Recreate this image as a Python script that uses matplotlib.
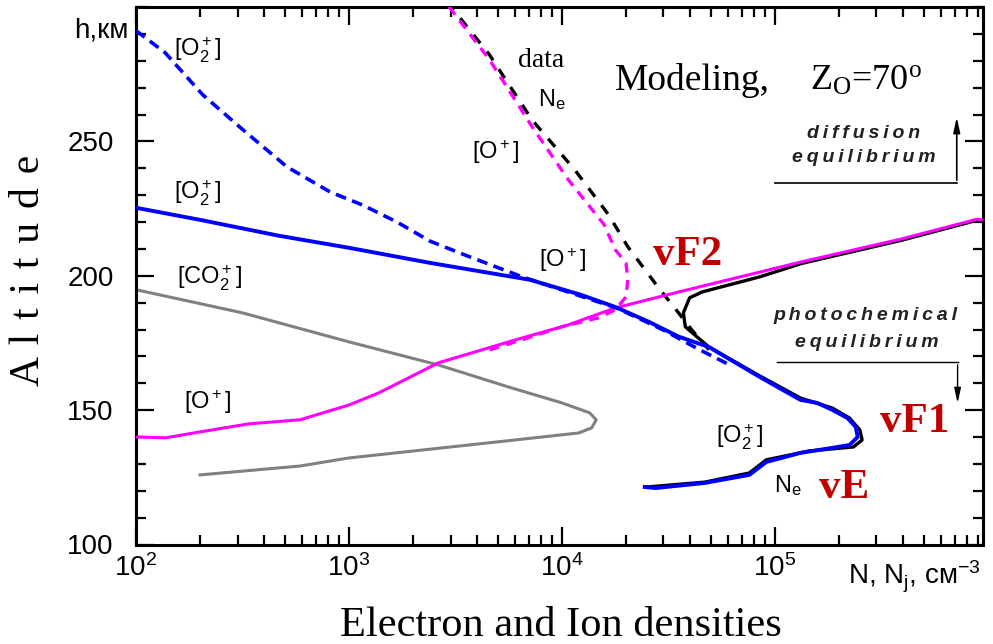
import matplotlib
matplotlib.use("Agg")
import matplotlib.pyplot as plt
from matplotlib.ticker import LogLocator, MultipleLocator, NullFormatter
import numpy as np

plt.rcParams['font.family'] = ['Liberation Sans', 'DejaVu Sans']
plt.rcParams['mathtext.fontset'] = 'custom'
plt.rcParams['mathtext.rm'] = 'Liberation Sans'
plt.rcParams['mathtext.it'] = 'Liberation Sans'
plt.rcParams['mathtext.bf'] = 'Liberation Sans:bold'
plt.rcParams['mathtext.default'] = 'regular'

# densities in cm^-3, altitudes in km
# [O2+] diffusive model (dashed blue)
o2_diff_n = [100, 137, 206, 318, 512, 815, 1160, 1680, 2400, 3510, 6560, 12600, 18100, 29800, 44500, 61500]
o2_diff_h = [291.2, 283.0, 267.3, 254.3, 240.5, 231.2, 226.3, 220.0, 212.9, 207.7, 199.5, 192.1, 188.0, 179.9, 172.4, 166.8]

# [O2+] photochemical model (solid blue)
o2_n = [100, 200, 468, 1000, 2400, 7080, 12300, 17800, 25700, 35500, 49000, 85100,
        132000, 158000, 186000, 219000, 240000, 245000, 224000, 162000, 132000, 91200,
        75900, 46800, 27500, 24500]
o2_h = [225.3, 220.8, 214.9, 210.4, 204.8, 198.5, 192.9, 188.4, 182.8, 177.3, 173.5, 162.3,
        153.8, 152.7, 150.1, 147.1, 143.7, 140.0, 137.0, 135.2, 134.1, 130.7,
        125.9, 122.9, 121.0, 121.4]

# [O+] model (solid magenta)
op_n = [100, 138, 200, 339, 589, 1000, 1380, 2630, 6030, 10700, 17800, 35500, 55000,
        134000, 394000, 887000, 948000]
op_h = [140.0, 139.7, 141.9, 144.9, 146.4, 151.9, 156.4, 167.6, 176.1, 181.7, 188.0, 194.0, 197.7,
        205.2, 213.7, 221.0, 220.8]

# [O+] diffusive model (dashed magenta)
op_diff_n = [2950, 4570, 7240, 10700, 15800, 17800, 20000, 20400, 20000, 17800, 14800,
             10000, 6460, 4400]
op_diff_h = [300.1, 280.4, 255.5, 235.8, 219.0, 209.7, 204.8, 198.5, 192.1, 187.3, 184.3,
             181.0, 176.1, 172.0]

# [CO2+] (grey)
co2_n = [100, 316, 1000, 2630, 5620, 10000, 13500, 14500, 13800, 12000, 5010, 1000, 589, 200]
co2_h = [194.8, 186.2, 175.4, 166.8, 158.6, 152.7, 149.0, 146.4, 143.4, 141.5, 138.2, 132.2, 129.2, 125.9]

# electron density, model (solid black)
ne_n = [25100, 46800, 75900, 91200, 145000, 234000, 257000, 251000, 224000, 186000,
        132000, 85100, 49000, 38000, 37200, 39800, 45700, 85100, 134000, 394000, 887000, 948000]
ne_h = [121.4, 123.2, 126.6, 131.5, 134.8, 136.3, 138.9, 142.6, 147.1, 150.8,
        154.5, 162.7, 173.5, 181.0, 186.2, 191.8, 194.0, 199.6, 204.6, 213.2, 220.6, 220.4]

# electron density, data (dashed black)
ne_data_n = [3020, 4570, 7240, 11500, 16600, 20400, 28200, 33900, 40700, 49000]
ne_data_h = [300.1, 282.2, 258.0, 239.4, 222.6, 210.8, 195.9, 188.0, 179.9, 172.5]

x_ticks = [1e2, 1e3, 1e4, 1e5]
x_tick_labels = [r'$10^2$', r'$10^3$', r'$10^4$', r'$10^5$']
y_ticks = [100, 150, 200, 250]
y_tick_labels = ['100', '150', '200', '250']

fig = plt.figure(figsize=(9.93, 6.44), dpi=100)
ax = fig.add_axes([136 / 993, 1 - 544.5 / 644, 847 / 993, 537.5 / 644])

ax.plot(co2_n, co2_h, color='#808080', lw=2.2, zorder=2)
ax.plot(ne_data_n, ne_data_h, color='black', lw=2.4, linestyle=(2, (3.2, 3.2)), zorder=3)
ax.plot(op_diff_n, op_diff_h, color='#ff00ff', lw=2.4, linestyle=(0, (3.0, 2.2)), zorder=4)
ax.plot(ne_n, ne_h, color='black', lw=2.4, zorder=4)
ax.plot(op_n, op_h, color='#ff00ff', lw=2.2, zorder=5)
ax.plot(o2_diff_n, o2_diff_h, color='#0000ff', lw=2.6, linestyle=(0, (3.0, 1.8)), zorder=6)
ax.plot(o2_n, o2_h, color='#0000ff', lw=2.8, zorder=6)

ax.set_xscale('log')
ax.set_xlim(100, 9.5e5)
ax.set_ylim(100, 300)
ax.set_xticks(x_ticks)
ax.set_xticklabels(x_tick_labels)
ax.set_yticks(y_ticks)
ax.set_yticklabels(y_tick_labels)
ax.xaxis.set_minor_locator(LogLocator(base=10, subs=np.arange(2, 10)))
ax.xaxis.set_minor_formatter(NullFormatter())
ax.yaxis.set_minor_locator(MultipleLocator(10))

for s in ax.spines.values():
    s.set_linewidth(2.2)
ax.tick_params(which='both', direction='in', top=True, right=True, width=1.6)
ax.tick_params(which='major', length=13, labelsize=20)
ax.tick_params(axis='x', which='major', pad=7)
ax.tick_params(axis='y', which='major', pad=16)
ax.tick_params(which='minor', length=7)

# axis captions
ax.text(-8 / 847, 0.957, 'h,км', transform=ax.transAxes, ha='right', va='center', fontsize=20)
ax.text(0.8406, -0.0735, 'N, N$_j$, см$^{-3}$', transform=ax.transAxes,
        ha='left', va='baseline', fontsize=20, clip_on=False)
fig.text(561 / 993, 1 - 636 / 644, 'Electron and Ion densities', ha='center', va='baseline',
         family='Liberation Serif', fontsize=30.5)
fig.text(29 / 993, 0.580, ' \u200a'.join('Altitude'), rotation=90, ha='center', va='center',
         family=['Liberation Serif', 'DejaVu Serif'], fontsize=30)

# species labels
lab = dict(transform=ax.transAxes, ha='center', va='center', fontsize=17)
ax.text(0.0732, 0.920, r'[O$_2^+$]', **lab)
ax.text(0.0732, 0.654, r'[O$_2^+$]', **lab)
ax.text(0.0862, 0.496, r'[CO$_2^+$]', **lab)
ax.text(0.085, 0.265, r'[O$^+$]', **lab)
ax.text(0.504, 0.529, r'[O$^+$]', **lab)
ax.text(0.425, 0.730, r'[O$^+$]', **lab)
ax.text(0.713, 0.200, r'[O$_2^+$]', **lab)
ax.text(0.491, 0.827, r'N$_e$', **lab)
ax.text(0.770, 0.109, r'N$_e$', **lab)
ax.text(0.478, 0.901, 'data', transform=ax.transAxes, ha='center', va='center',
        family='Liberation Serif', fontsize=20)

ax.text(0.5655, 0.8456, 'Modeling,', transform=ax.transAxes, ha='left', va='baseline',
        family='Liberation Serif', fontsize=27)
ax.text(0.7958, 0.8456, r'Z$_{O}$=70$^{o}$', transform=ax.transAxes,
        ha='left', va='baseline', family='Liberation Serif', fontsize=26)

# layer names
red = dict(transform=ax.transAxes, ha='center', va='baseline', family='Liberation Serif',
           fontweight='bold', color='#c00000', fontsize=31)
ax.text(0.6517, 0.520, 'vF2', **red)
ax.text(0.9197, 0.2093, 'vF1', **red)
ax.text(0.8365, 0.0865, 'vE', **red)

# regime markers
ts = '\u2009'
small = dict(transform=ax.transAxes, ha='center', va='baseline', fontsize=14,
             family=['Liberation Sans', 'DejaVu Sans'], style='italic', fontweight='bold',
             color='#222222')
ax.text(0.859, 0.7563, ts.join('diffusion'), **small)
ax.text(0.859, 0.7121, ts.join('equilibrium'), **small)
ax.text(0.8617, 0.4177, ts.join('photochemical'), **small)
ax.text(0.8625, 0.368, ts.join('equilibrium'), **small)

ax.plot([0.754, 0.969], [0.6726, 0.6726], transform=ax.transAxes, color='black', lw=1.2)
ax.annotate('', xy=(0.969, 0.80), xytext=(0.969, 0.6726), xycoords='axes fraction',
            arrowprops=dict(arrowstyle='-|>,head_length=0.9,head_width=0.2', color='black', lw=1.2))
ax.plot([0.757, 0.970], [0.3395, 0.3395], transform=ax.transAxes, color='black', lw=1.0)
ax.annotate('', xy=(0.970, 0.258), xytext=(0.970, 0.3395), xycoords='axes fraction',
            arrowprops=dict(arrowstyle='-|>,head_length=0.9,head_width=0.2', color='black', lw=1.0))

fig.savefig('out.png', dpi=100)
